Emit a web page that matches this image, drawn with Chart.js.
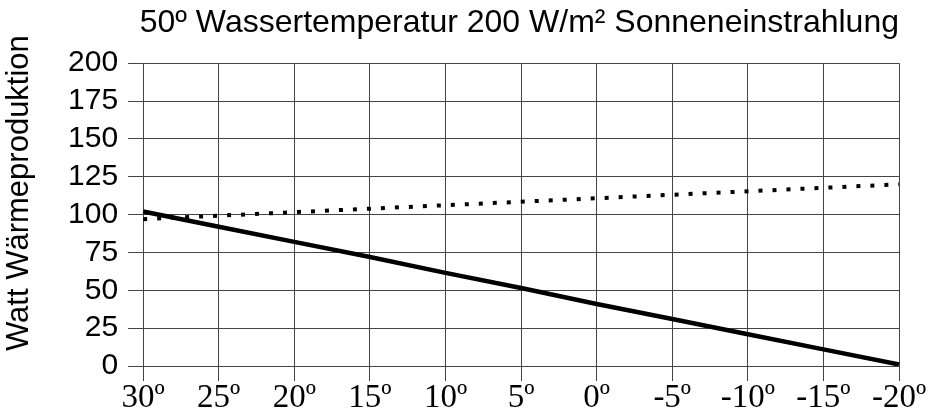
<!DOCTYPE html>
<html>
<head>
<meta charset="utf-8">
<script src="https://cdn.jsdelivr.net/npm/chart.js@4"></script>
<style>
  html, body { margin: 0; padding: 0; background: #fff; }
  #wrap { width: 929px; height: 416px; }
</style>
</head>
<body>
<div id="wrap"><canvas id="chart"></canvas></div>
<script>
const temperatures = ["30º", "25º", "20º", "15º", "10º", "5º", "0º", "-5º", "-10º", "-15º", "-20º"];
const solidSeries = [102, 92, 82, 72, 61.5, 51.5, 41, 31, 21, 11, 1];
const dottedSeries = [97, 99.3, 101.6, 103.9, 106.2, 108.5, 110.8, 113.1, 115.4, 117.7, 120];
const yTicks = [0, 25, 50, 75, 100, 125, 150, 175, 200];

const gridColor = "#444";

new Chart(document.getElementById("chart"), {
  type: "line",
  data: {
    labels: temperatures,
    datasets: [
      {
        data: solidSeries,
        borderColor: "#000",
        borderWidth: 4.5,
        pointRadius: 0,
        tension: 0,
      },
      {
        data: dottedSeries,
        borderColor: "#000",
        borderWidth: 4,
        borderDash: [4, 10],
        borderCapStyle: "butt",
        pointRadius: 0,
        tension: 0,
      },
    ],
  },
  options: {
    responsive: true,
    maintainAspectRatio: false,
    animation: false,
    layout: { padding: { left: 2, right: 30, top: 0, bottom: 0 } },
    plugins: {
      legend: { display: false },
      tooltip: { enabled: false },
      title: {
        display: true,
        text: "50º Wassertemperatur 200 W/m² Sonneneinstrahlung",
        align: "end",
        color: "#000",
        font: { family: "Liberation Sans, Arial, sans-serif", size: 32, weight: "normal", lineHeight: 1.1 },
        padding: { top: 6, bottom: 22 },
      },
    },
    scales: {
      x: {
        type: "category",
        offset: false,
        border: { color: gridColor, width: 1 },
        grid: { color: gridColor, lineWidth: 1, tickLength: 15, drawTicks: true },
        ticks: {
          color: "#000",
          padding: 1,
          maxRotation: 0,
          autoSkip: false,
          font: { family: "Liberation Serif, Times New Roman, serif", size: 33, lineHeight: 1 },
        },
      },
      y: {
        min: 0,
        max: 200,
        afterBuildTicks: (axis) => {
          axis.ticks = yTicks.map((v) => ({ value: v }));
        },
        border: { color: gridColor, width: 1 },
        grid: { color: gridColor, lineWidth: 1, tickLength: 15 },
        ticks: {
          color: "#000",
          padding: 10,
          font: { family: "Liberation Sans, Arial, sans-serif", size: 30, lineHeight: 1 },
        },
        title: {
          display: true,
          // leading spaces nudge the rotated label upwards like the original
          text: "     Watt Wärmeproduktion",
          color: "#000",
          padding: { top: 0, bottom: 22 },
          font: { family: "Liberation Sans, Arial, sans-serif", size: 31, lineHeight: 1.1 },
        },
      },
    },
  },
});
</script>
</body>
</html>
